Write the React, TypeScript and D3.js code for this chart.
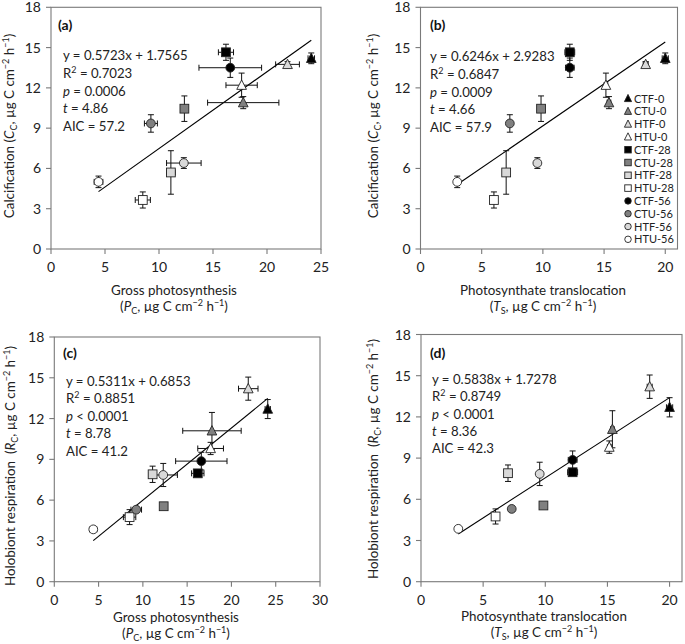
import React from "react";
import * as d3 from "d3";

const groups = ["CTF-0","CTU-0","HTF-0","HTU-0","CTF-28","CTU-28","HTF-28","HTU-28","CTF-56","CTU-56","HTF-56","HTU-56"];
const shapes = ["tri","tri","tri","tri","sq","sq","sq","sq","circ","circ","circ","circ"];
const fills = ["#000000","#808080","#d9d9d9","#ffffff","#000000","#808080","#d9d9d9","#ffffff","#000000","#808080","#d9d9d9","#ffffff"];

// Gross photosynthesis Pc
const Pc =   [24.1, 17.8, 21.9, 17.65, 16.2, 12.35, 11.1, 8.5, 16.6, 9.25, 12.3, 4.4];
const PcSE = [0.3, 3.3, 1.1, 1.45, 0.7, 0.3, 0.4, 0.7, 2.9, 0.6, 1.6, 0.4];
// Photosynthate translocation Ts
const Ts =   [20.0, 15.4, 18.4, 15.15, 12.2, 9.85, 7.0, 6.0, 12.2, 7.3, 9.55, 3.0];
const TsSE = [0.25, 0.15, 0.2, 0.15, 0.4, 0.15, 0.15, 0.15, 0.35, 0.15, 0.15, 0.15];
// Calcification Cc
const Cc =   [14.2, 10.9, 13.75, 12.2, 14.65, 10.45, 5.7, 3.65, 13.5, 9.35, 6.4, 5.0];
const CcSE = [0.4, 0.45, 0.2, 0.9, 0.6, 0.95, 1.62, 0.6, 0.72, 0.65, 0.4, 0.43];
// Holobiont respiration Rc
const Rc =   [12.7, 11.1, 14.2, 9.8, 7.97, 5.55, 7.9, 4.75, 8.87, 5.3, 7.85, 3.85];
const RcSE = [0.7, 1.35, 0.85, 0.45, 0.1, 0.1, 0.6, 0.55, 0.65, 0.2, 0.85, 0.1];

const yTicks = [0, 3, 6, 9, 12, 15, 18];
const panelLabels = ["(a)", "(b)", "(c)", "(d)"];
const slopes = [0.5723, 0.6246, 0.5311, 0.5838];
const intercepts = [1.7565, 2.9283, 0.6853, 1.7278];
const eqTexts = ["y = 0.5723x + 1.7565", "y = 0.6246x + 2.9283", "y = 0.5311x + 0.6853", "y = 0.5838x + 1.7278"];
const r2Texts = [" = 0.7023", " = 0.6847", " = 0.8851", " = 0.8749"];
const pTexts = [" = 0.0006", " = 0.0009", " < 0.0001", " < 0.0001"];
const tTexts = [" = 4.86", " = 4.66", " = 8.78", " = 8.36"];
const aicTexts = ["AIC = 57.2", "AIC = 57.9", "AIC = 41.2", "AIC = 42.3"];

const FONT = "Lato, 'Open Sans', sans-serif";
const AX = "#7a7a7a";

type Layout = {
  left: number; right: number; top: number; bottom: number;
  xDomain: [number, number]; xTicks: number[];
  statX: number; statY: number; statDy: number; labX: number; labY: number;
  xTitleX: number; xTitleY: number; yTitleX: number; yTitleY: number;
  xName: string; xSym: string; xSub: string; yName: string; ySym: string;
  legend: boolean;
};

const layouts: Layout[] = [
  { left: 51, right: 321, top: 7.3, bottom: 249, xDomain: [0, 25], xTicks: [0, 5, 10, 15, 20, 25],
    statX: 63, statY: 60, statDy: 17.8, labX: 58, labY: 30,
    xTitleX: 174, xTitleY: 295, yTitleX: 14, yTitleY: 126,
    xName: "Gross photosynthesis", xSym: "P", xSub: "C", yName: "Calcification (", ySym: "C", legend: false },
  { left: 420.5, right: 677.5, top: 7.3, bottom: 249, xDomain: [0, 21], xTicks: [0, 5, 10, 15, 20],
    statX: 430, statY: 61, statDy: 17.8, labX: 430, labY: 30,
    xTitleX: 543, xTitleY: 295, yTitleX: 378, yTitleY: 126,
    xName: "Photosynthate translocation", xSym: "T", xSub: "S", yName: "Calcification (", ySym: "C", legend: true },
  { left: 54.3, right: 320, top: 337, bottom: 581.7, xDomain: [0, 30], xTicks: [0, 5, 10, 15, 20, 25, 30],
    statX: 66, statY: 386, statDy: 17.4, labX: 63, labY: 358,
    xTitleX: 176, xTitleY: 622, yTitleX: 15, yTitleY: 466,
    xName: "Gross photosynthesis", xSym: "P", xSub: "C", yName: "Holobiont respiration  (", ySym: "R", legend: false },
  { left: 421, right: 682, top: 334.5, bottom: 581.7, xDomain: [0, 21], xTicks: [0, 5, 10, 15, 20],
    statX: 432, statY: 384, statDy: 17.3, labX: 430, labY: 358,
    xTitleX: 544, xTitleY: 621, yTitleX: 378, yTitleY: 459,
    xName: "Photosynthate translocation", xSym: "T", xSub: "S", yName: "Holobiont respiration  (", ySym: "R", legend: false },
];

const panelData = [
  { x: Pc, xe: PcSE, y: Cc, ye: CcSE },
  { x: Ts, xe: TsSE, y: Cc, ye: CcSE },
  { x: Pc, xe: PcSE, y: Rc, ye: RcSE },
  { x: Ts, xe: TsSE, y: Rc, ye: RcSE },
];

function Marker({ shape, fill, cx, cy, s }: { shape: string; fill: string; cx: number; cy: number; s: number }) {
  const stroke = "#222";
  if (shape === "sq") return <rect x={cx - s / 2} y={cy - s / 2} width={s} height={s} fill={fill} stroke={stroke} strokeWidth={0.9} />;
  if (shape === "circ") return <circle cx={cx} cy={cy} r={s / 2} fill={fill} stroke={stroke} strokeWidth={0.9} />;
  const h = s * 0.95;
  const w = s * 1.1;
  return <path d={`M${cx},${cy - h / 2 - 1}L${cx + w / 2},${cy + h / 2}L${cx - w / 2},${cy + h / 2}Z`} fill={fill} stroke={stroke} strokeWidth={0.9} />;
}

function Panel({ idx }: { idx: number }) {
  const L = layouts[idx];
  const D = panelData[idx];
  const xs = d3.scaleLinear().domain(L.xDomain).range([L.left, L.right]);
  const ys = d3.scaleLinear().domain([0, 18]).range([L.bottom, L.top]);
  const [x0, x1] = d3.extent(D.x) as [number, number];
  const line = d3.line<number>().x((v) => xs(v)).y((v) => ys(slopes[idx] * v + intercepts[idx]));
  const cap = 3;
  return (
    <g fontFamily={FONT}>
      <rect x={L.left} y={L.top} width={L.right - L.left} height={L.bottom - L.top} fill="none" stroke={AX} strokeWidth={1.1} />
      {yTicks.map((t) => (
        <g key={"y" + t}>
          <line x1={L.left - 5} x2={L.left} y1={ys(t)} y2={ys(t)} stroke={AX} strokeWidth={1.1} />
          <text x={L.left - 10} y={ys(t) + 5} textAnchor="end" fontSize={14} fill="#222">{t}</text>
        </g>
      ))}
      {L.xTicks.map((t) => (
        <g key={"x" + t}>
          <line x1={xs(t)} x2={xs(t)} y1={L.bottom} y2={L.bottom + 5} stroke={AX} strokeWidth={1.1} />
          <text x={xs(t)} y={L.bottom + 23} textAnchor="middle" fontSize={14} fill="#222">{t}</text>
        </g>
      ))}
      <path d={line([x0, x1]) || ""} fill="none" stroke="#000" strokeWidth={1.1} />
      {groups.map((g, i) => {
        const cx = xs(D.x[i]);
        const cy = ys(D.y[i]);
        const xa = xs(D.x[i] - D.xe[i]);
        const xb = xs(D.x[i] + D.xe[i]);
        const ya = ys(D.y[i] - D.ye[i]);
        const yb = ys(D.y[i] + D.ye[i]);
        return (
          <g key={"e" + g} stroke="#111" strokeWidth={1}>
            <line x1={xa} x2={xb} y1={cy} y2={cy} />
            <line x1={xa} x2={xa} y1={cy - cap} y2={cy + cap} />
            <line x1={xb} x2={xb} y1={cy - cap} y2={cy + cap} />
            <line x1={cx} x2={cx} y1={ya} y2={yb} />
            <line x1={cx - cap} x2={cx + cap} y1={ya} y2={ya} />
            <line x1={cx - cap} x2={cx + cap} y1={yb} y2={yb} />
          </g>
        );
      })}
      {groups.map((g, i) => (
        <Marker key={"m" + g} shape={shapes[i]} fill={fills[i]} cx={xs(D.x[i])} cy={ys(D.y[i])} s={8.8} />
      ))}
      <text x={L.labX} y={L.labY} fontSize={14} fontWeight="bold" fill="#111">{panelLabels[idx]}</text>
      <g fontSize={13.2} fill="#222">
        <text x={L.statX} y={L.statY}>{eqTexts[idx]}</text>
        <text x={L.statX} y={L.statY + L.statDy}>R<tspan fontSize={9} dy={-5}>2</tspan><tspan dy={5}>{r2Texts[idx]}</tspan></text>
        <text x={L.statX} y={L.statY + 2 * L.statDy}><tspan fontStyle="italic">p</tspan>{pTexts[idx]}</text>
        <text x={L.statX} y={L.statY + 3 * L.statDy}><tspan fontStyle="italic">t</tspan>{tTexts[idx]}</text>
        <text x={L.statX} y={L.statY + 4 * L.statDy}>{aicTexts[idx]}</text>
      </g>
      <g fontSize={13.4} fill="#222">
        <text x={L.xTitleX} y={L.xTitleY} textAnchor="middle">{L.xName}</text>
        <text x={L.xTitleX} y={L.xTitleY + 16} textAnchor="middle">
          (<tspan fontStyle="italic">{L.xSym}</tspan><tspan fontSize={9} dy={3}>{L.xSub}</tspan>
          <tspan dy={-3}>, µg C cm</tspan><tspan fontSize={9} dy={-5}>−2</tspan>
          <tspan dy={5}> h</tspan><tspan fontSize={9} dy={-5}>−1</tspan><tspan dy={5}>)</tspan>
        </text>
        <text transform={`translate(${L.yTitleX},${L.yTitleY}) rotate(-90)`} textAnchor="middle" xmlSpace="preserve">
          {L.yName}<tspan fontStyle="italic">{L.ySym}</tspan><tspan fontSize={9} dy={3}>C</tspan>
          <tspan dy={-3}>, µg C cm</tspan><tspan fontSize={9} dy={-5}>−2</tspan>
          <tspan dy={5}> h</tspan><tspan fontSize={9} dy={-5}>−1</tspan><tspan dy={5}>)</tspan>
        </text>
      </g>
      {L.legend && (
        <g fontSize={11} fill="#222">
          {groups.map((g, i) => (
            <g key={"l" + g}>
              <Marker shape={shapes[i]} fill={fills[i]} cx={628} cy={98.5 + i * 12.8} s={6.5} />
              <text x={634} y={98.5 + i * 12.8 + 4}>{g}</text>
            </g>
          ))}
        </g>
      )}
    </g>
  );
}

export default function App() {
  return (
    <svg width={685} height={644} style={{ position: "absolute", left: 0, top: 0, background: "#fff" }}>
      <rect x={0} y={0} width={685} height={644} fill="#fff" />
      {[0, 1, 2, 3].map((i) => <Panel key={i} idx={i} />)}
    </svg>
  );
}
